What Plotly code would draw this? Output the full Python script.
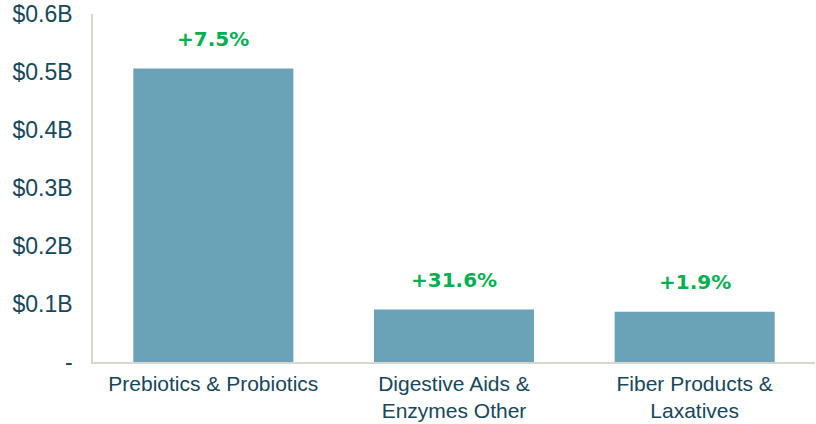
import plotly.graph_objects as go

categories = ["Prebiotics & Probiotics", "Digestive Aids &<br>Enzymes Other", "Fiber Products &<br>Laxatives"]
values = [0.506, 0.0905, 0.0866]
growth_labels = ["+7.5%", "+31.6%", "+1.9%"]
tick_vals = [0, 0.1, 0.2, 0.3, 0.4, 0.5, 0.6]
tick_text = ["-", "$0.1B", "$0.2B", "$0.3B", "$0.4B", "$0.5B", "$0.6B"]

TEXT = "#16475a"
BAR = "#6aa3b8"
GREEN = "#00b050"
AXIS = "#d9d4cc"

fig = go.Figure(go.Bar(x=categories, y=values, marker=dict(color=BAR, line=dict(width=0)), width=0.665))

for c, v, g in zip(categories, values, growth_labels):
    fig.add_annotation(x=c, y=v, text=g, showarrow=False, yanchor="middle", yshift=30,
                       font=dict(family="DejaVu Sans", size=20, color=GREEN, weight="bold"))

fig.update_layout(
    width=816, height=424,
    margin=dict(l=93, r=1, t=14, b=62),
    paper_bgcolor="white", plot_bgcolor="white",
    showlegend=False,
    bargap=0.335,
    font=dict(family="Liberation Sans, Arial", color=TEXT),
)
fig.update_xaxes(showline=True, linecolor=AXIS, linewidth=1.5, showgrid=False, automargin=False,
                 tickfont=dict(size=21, color=TEXT), ticks="", ticklabelstandoff=2)
fig.update_yaxes(range=[0, 0.6], tickvals=tick_vals, ticktext=tick_text, showline=True,
                 linecolor=AXIS, linewidth=1.5, showgrid=False, zeroline=False, automargin=False,
                 tickfont=dict(size=23, color=TEXT), ticks="", ticklabelstandoff=14,
                 ticklabeloverflow="allow")

# remove the browser's default 8px body margin so the figure fills the window exactly
fig.write_html("out.html", config={"displayModeBar": False},
               post_script="document.body.style.margin='0';")
